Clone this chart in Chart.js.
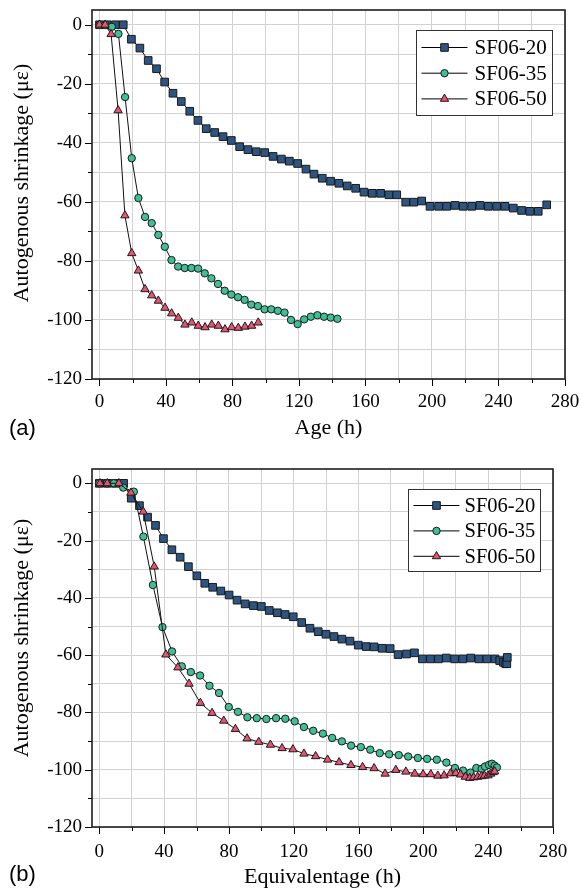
<!DOCTYPE html>
<html>
<head>
<meta charset="utf-8">
<title>Autogenous shrinkage</title>
<script src="https://cdn.jsdelivr.net/npm/chart.js@4.4.1/dist/chart.umd.min.js"></script>
<style>
  html, body { margin: 0; padding: 0; background: #fff; }
  #wrap { position: relative; width: 582px; height: 893px; }
  canvas { position: absolute; left: 0; }
  #chartA { top: 0; }
  #chartB { top: 450px; }
  .tag { position: absolute; left: 9px; font: 22px "Liberation Sans", Arial, sans-serif; line-height: 1; color: #000; }
</style>
</head>
<body>
<div id="wrap">
  <canvas id="chartA" width="582" height="450" style="width:582px;height:450px"></canvas>
  <canvas id="chartB" width="582" height="443" style="width:582px;height:443px"></canvas>
  <div class="tag" style="top:417px">(a)</div>
  <div class="tag" style="top:863px">(b)</div>
</div>
<script>
// series names and axis labels
const seriesNames = ["SF06-20", "SF06-35", "SF06-50"];
const xTickLabels = [0, 40, 80, 120, 160, 200, 240, 280];
const yTickLabels = [0, -20, -40, -60, -80, -100, -120];
const yTitle = "Autogenous shrinkage (\u03bc\u03b5)";

// (a) shrinkage against age (h)
const ageA20 = [0, 4.6, 9.6, 14.3, 19.2, 24.3, 29.3, 34.3, 39.2, 44.2, 49.2, 54.3, 59.2, 64.2, 69.3, 74.3, 79.3, 84.3, 89.3, 94.3, 99.4, 104.4, 109.4, 114.2, 119.2, 124.2, 129, 134, 139, 144, 149, 154.1, 159.1, 164.1, 169.1, 174.1, 178.8, 184.2, 189, 193.8, 198.8, 204, 208.8, 213.8, 218.8, 223.9, 228.9, 233.9, 238.9, 243.9, 248.9, 253.9, 258.9, 263.9, 269];
const shrinkA20 = [0, 0, 0, 0, -4.9, -7.9, -12.1, -14.9, -19.4, -23.2, -26, -29.3, -32.4, -35.2, -36.5, -37.9, -39.2, -41.3, -42.3, -43, -43.3, -44.6, -45.5, -46.2, -47, -48.9, -50.6, -52, -53, -53.7, -54.6, -55.4, -56.7, -57.1, -57.1, -57.6, -57.6, -60.1, -60.1, -59.7, -61.5, -61.5, -61.5, -61.2, -61.5, -61.5, -61.2, -61.5, -61.5, -61.5, -62.1, -62.9, -63.2, -63.2, -61];
const ageA35 = [0, 3.5, 7.4, 11.4, 15.4, 19.4, 23.4, 27.4, 31.4, 35.4, 39.3, 43.3, 47.3, 51.3, 55.3, 59.3, 63.3, 67.3, 71.3, 75.3, 79.3, 83.3, 87.3, 91.3, 95.3, 99.3, 103.3, 107.3, 111.3, 115.2, 119.2, 123.1, 127.1, 131.1, 135.1, 139.1, 143.1];
const shrinkA35 = [0, 0, -0.7, -3.1, -24.5, -45.2, -58.7, -65.1, -67.2, -71.2, -75.2, -79.7, -81.9, -82.4, -82.4, -82.6, -84.2, -85.9, -87.8, -90.1, -91.4, -92.3, -93.2, -94.8, -95.3, -96.4, -96.4, -96.9, -97.5, -100, -101.4, -99.8, -98.9, -98.4, -98.9, -99.2, -99.6];
const ageA50 = [0, 3.4, 7, 11.2, 15.3, 19.4, 23.4, 27.4, 31.4, 35.4, 39.4, 43.4, 47.4, 51.4, 55.5, 59.4, 63.5, 67.5, 71.5, 75.5, 79.5, 83.5, 87.5, 91.5, 95.5];
const shrinkA50 = [0, 0, -3.2, -29, -64.6, -77.4, -83.3, -89.6, -91.7, -93.5, -95.9, -97.8, -99.3, -101.6, -100.9, -102, -102.5, -101.6, -102, -103.2, -102.5, -102.7, -102.3, -102, -100.9];

// (b) shrinkage against equivalent age (h)
const eqAgeB20 = [0, 5, 10, 15, 19.7, 24.8, 29.8, 34.7, 39.6, 44.8, 49.9, 55, 60.2, 65.1, 70, 75, 80.1, 85, 90, 95.1, 100, 104.9, 109.9, 114.7, 119.7, 124.9, 130, 135.1, 139.9, 144.8, 149.7, 154.7, 159.8, 164.7, 169.6, 174.6, 179.5, 184.4, 189.6, 194.5, 199.4, 204.4, 209.3, 214.2, 219.3, 224.3, 229.2, 234.3, 239.2, 244.2, 247.1, 249.4, 250.8, 251.5, 251.8];
const shrinkB20 = [0, 0, 0, 0, -5.2, -7.8, -11.8, -14.7, -19.3, -23.2, -25.8, -29.1, -32.3, -34.9, -36.3, -37.6, -39, -40.8, -42.1, -42.7, -43, -44.4, -45.2, -45.8, -46.6, -48.6, -50.6, -51.8, -52.7, -53.5, -54.4, -55.1, -56.5, -57, -57.1, -57.6, -57.7, -59.8, -59.6, -59.2, -61.3, -61.3, -61.3, -61, -61.3, -61.3, -61, -61.3, -61.3, -61.3, -61.9, -62.5, -63, -63, -60.8];
const eqAgeB35 = [0, 4.7, 9, 14.8, 21.3, 27.2, 33.1, 39, 44.9, 50.9, 56.5, 62.2, 68, 73.9, 79.9, 85.6, 91.4, 97.2, 103.1, 109.1, 114.8, 120.6, 126.3, 132, 138, 143.7, 149.7, 155.4, 161.4, 167.2, 173.1, 178.9, 184.8, 190.6, 196.6, 202.3, 208.3, 214.2, 219.5, 224.5, 229, 232.7, 236, 238, 240.5, 242.3, 244, 245.4];
const shrinkB35 = [0, 0, 0, -1.5, -2.9, -18.6, -35.5, -50.2, -58.7, -63.9, -65.9, -67.1, -70.7, -73.2, -78.1, -79.8, -81.7, -82, -82.3, -82, -82.2, -83.1, -85.1, -86.4, -87.4, -88.9, -90.1, -91.6, -92.1, -93, -94.2, -94.6, -94.9, -95.4, -95.9, -96.2, -96.5, -97.5, -99.4, -100.3, -101, -99.4, -99.7, -98.9, -98.3, -97.9, -98.6, -99.2];
const eqAgeB50 = [0.4, 4.9, 12.1, 19.5, 27.1, 33.9, 41.1, 48.5, 55.4, 62.4, 69.6, 76.8, 84, 91.2, 98.4, 105.6, 112.8, 119.5, 126.3, 133.5, 140.9, 148, 155.3, 162.5, 169.6, 176.4, 183, 189.2, 194.7, 199.8, 204.6, 208.9, 212.8, 216.7, 220, 223, 225.9, 228.6, 231, 233.5, 235.8, 237.7, 239.9, 241.5, 243, 244];
const shrinkB50 = [0, 0, 0, -3.3, -9.9, -29.1, -59.8, -64.3, -70, -76.7, -80.2, -82.9, -85.8, -89.1, -90.3, -91.3, -92.5, -92.9, -94.4, -95.3, -96.5, -97.4, -98.4, -99.1, -99.5, -101.4, -100.1, -100.7, -101.4, -101.6, -101.6, -102.1, -102, -101.3, -101.2, -101.7, -102.5, -102.9, -102.7, -102.5, -102.3, -102.1, -102, -101.4, -100.9, -100.6];

const serif = '"Liberation Serif", "DejaVu Serif", "Times New Roman", Times, serif';
const markers = [
    { pointStyle: "rect", radius: 5.4, fill: "#2c5582" },
    { pointStyle: "circle", radius: 3.7, fill: "#40bf96" },
    { pointStyle: "triangle", radius: 4.8, fill: "#ea5172" }
];

function toPoints(xs, ys) {
    return xs.map((x, i) => ({ x: x, y: ys[i] }));
}

// outward tick marks, plot frame and the rotated y title
const framePlugin = {
    id: "frame",
    afterDraw(chart, args, opts) {
        const ctx = chart.ctx;
        const { left, right, top, bottom } = chart.chartArea;
        const xs = chart.scales.x, ys = chart.scales.y;
        ctx.save();
        ctx.strokeStyle = "#000";
        ctx.lineWidth = 1;
        ctx.beginPath();
        xs.ticks.forEach(t => {
            const px = Math.round(xs.getPixelForValue(t.value)) + 0.5;
            const len = xTickLabels.includes(t.value) ? 7 : 4;
            ctx.moveTo(px, bottom);
            ctx.lineTo(px, bottom + len);
        });
        ys.ticks.forEach(t => {
            const py = Math.round(ys.getPixelForValue(t.value)) + 0.5;
            const len = yTickLabels.includes(t.value) ? 7 : 4;
            ctx.moveTo(left, py);
            ctx.lineTo(left - len, py);
        });
        ctx.stroke();

        ctx.lineWidth = 1.6;
        ctx.strokeStyle = "#1e1e1e";
        ctx.strokeRect(left, top, right - left, bottom - top);

        ctx.translate(22, opts.titleY);
        ctx.rotate(-Math.PI / 2);
        ctx.fillStyle = "#000";
        ctx.font = "22px " + serif;
        ctx.textAlign = "center";
        ctx.textBaseline = "middle";
        ctx.fillText(yTitle, 0, 0);
        ctx.restore();
    }
};

// boxed legend in the upper right corner of the plot
const boxLegend = {
    id: "boxLegend",
    afterDraw(chart, args, o) {
        const ctx = chart.ctx;
        const area = chart.chartArea;
        const x0 = Math.round(area.right - 13 - o.w) + 0.5;
        const y0 = Math.round(area.top + 20) + 0.5;
        ctx.save();
        ctx.fillStyle = "#fff";
        ctx.fillRect(x0, y0, o.w, o.h);
        ctx.strokeStyle = "#333";
        ctx.lineWidth = 1;
        ctx.strokeRect(x0, y0, o.w, o.h);
        chart.data.datasets.forEach((ds, i) => {
            const cy = y0 + o.first + i * o.row;
            ctx.strokeStyle = "#000";
            ctx.beginPath();
            ctx.moveTo(x0 + 5, cy);
            ctx.lineTo(x0 + 51, cy);
            ctx.stroke();
            ctx.fillStyle = ds.pointBackgroundColor;
            ctx.strokeStyle = ds.pointBorderColor;
            Chart.helpers.drawPoint(ctx, {
                pointStyle: ds.pointStyle,
                radius: ds.pointRadius,
                borderWidth: 1,
                rotation: 0
            }, x0 + 28, cy);
            ctx.fillStyle = "#000";
            ctx.font = o.font + "px " + serif;
            ctx.textAlign = "left";
            ctx.textBaseline = "middle";
            ctx.fillText(ds.label, x0 + o.textX, cy + 1);
        });
        ctx.restore();
    }
};

function makeChart(id, series, cfg) {
    const datasets = series.map((s, i) => ({
        label: seriesNames[i],
        data: toPoints(s[0], s[1]),
        showLine: true,
        borderColor: "#111",
        borderWidth: 1,
        pointStyle: markers[i].pointStyle,
        pointRadius: markers[i].radius,
        pointHoverRadius: markers[i].radius,
        pointBackgroundColor: markers[i].fill,
        pointBorderColor: "#1a1a1a",
        pointBorderWidth: 1,
        order: 3 - i,
        clip: false
    }));

    return new Chart(document.getElementById(id), {
        type: "scatter",
        data: { datasets: datasets },
        plugins: [framePlugin, boxLegend],
        options: {
            responsive: false,
            animation: false,
            events: [],
            layout: { padding: { left: 0, right: cfg.padRight, top: cfg.padTop, bottom: 0 } },
            plugins: {
                legend: { display: false },
                tooltip: { enabled: false },
                frame: { titleY: cfg.titleY },
                boxLegend: cfg.legend
            },
            scales: {
                x: {
                    type: "linear",
                    min: -4.5,
                    max: 280,
                    afterFit: s => { s.height = cfg.xHeight; s.paddingLeft = 0; s.paddingRight = 0; },
                    ticks: {
                        stepSize: 20,
                        includeBounds: false,
                        autoSkip: false,
                        maxRotation: 0,
                        padding: cfg.xTickPad,
                        color: "#000",
                        font: { family: serif, size: 19 },
                        callback: v => xTickLabels.includes(v) ? String(v) : ""
                    },
                    grid: { color: "#d2d2d2", lineWidth: 1, drawTicks: false },
                    border: { display: false },
                    title: {
                        display: true,
                        text: cfg.xTitle,
                        color: "#000",
                        font: { family: serif, size: 22 },
                        padding: { top: 0, bottom: cfg.xTitlePad }
                    }
                },
                y: {
                    type: "linear",
                    min: -120,
                    max: 5,
                    afterFit: s => { s.width = 92; s.paddingTop = 0; s.paddingBottom = 0; },
                    ticks: {
                        stepSize: 10,
                        includeBounds: false,
                        autoSkip: false,
                        padding: 10,
                        color: "#000",
                        font: { family: serif, size: 19 },
                        callback: v => yTickLabels.includes(v) ? String(v) : ""
                    },
                    grid: { color: "#d2d2d2", lineWidth: 1, drawTicks: false },
                    border: { display: false }
                }
            }
        }
    });
}

makeChart("chartA", [[ageA20, shrinkA20], [ageA35, shrinkA35], [ageA50, shrinkA50]], {
    padRight: 17, padTop: 10, xHeight: 71, xTickPad: 11.3, xTitlePad: 8.8,
    xTitle: "Age (h)", titleY: 183,
    legend: { w: 136, h: 85, first: 17, row: 25.7, textX: 58, font: 21 }
});

makeChart("chartB", [[eqAgeB20, shrinkB20], [eqAgeB35, shrinkB35], [eqAgeB50, shrinkB50]], {
    padRight: 29, padTop: 19, xHeight: 66, xTickPad: 13.3, xTitlePad: 2.8,
    xTitle: "Equivalentage (h)", titleY: 188,
    legend: { w: 132, h: 82, first: 16, row: 25.4, textX: 56, font: 20.5 }
});
</script>
</body>
</html>
